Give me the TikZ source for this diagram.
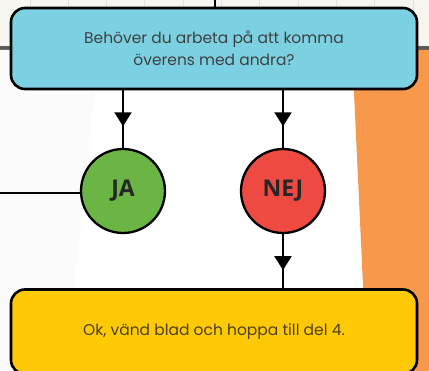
\documentclass[tikz,border=0pt]{standalone}
\usepackage{fontspec}
\setmainfont{Poppins}
\newfontfamily\labelfont{Open Sans}
\usetikzlibrary{arrows.meta,decorations.markings}
\definecolor{boxblue}{HTML}{7BD1E2}
\definecolor{boxyellow}{HTML}{FFCA05}
\definecolor{jagreen}{HTML}{6BB545}
\definecolor{nejred}{HTML}{EE4A42}
\definecolor{sideorange}{HTML}{F7984A}
\definecolor{creamtop}{HTML}{F7F5F0}
\definecolor{gridgray}{HTML}{E4E1DA}
\definecolor{bandgray}{HTML}{5A5A5A}
\definecolor{textgray}{HTML}{404040}
\definecolor{textbrown}{HTML}{4E400A}
\tikzset{
  question/.style = {draw = black, line width = 2.6pt, rounded corners = 14pt, minimum width = 406pt, minimum height = 81pt, align = center, font = \fontsize{15.5}{22}\selectfont},
  answer/.style = {circle, draw = black, line width = 2.3pt, minimum size = 84pt, inner sep = 0pt, font = \labelfont\bfseries\fontsize{23}{26}\selectfont, text = black!85},
  link/.style = {line width = 2pt},
  midarrow/.style = {postaction = {decorate}, decoration = {markings, mark = at position 36pt with {\arrow{Triangle[width=17pt,length=14pt]}}}}
}
\begin{document}
\begin{tikzpicture}[x = 1pt, y = -1pt]
\useasboundingbox (0,0) rectangle (429,371);
% background
\fill[color = creamtop] (0,0) rectangle (429,46);
\foreach \n in {0,...,10} \draw [color = gridgray, line width = 1pt] (30+38.33*\n,0) -- (30+38.33*\n,46);
\fill[color = bandgray] (0,46) rectangle (429,50);
\fill[color = black!1.5] (0,50) -- (99,50) -- (66,371) -- (0,371) -- cycle;
\fill[color = sideorange] (352,50) -- (429,50) -- (429,371) -- (367,371) -- cycle;
% nodes
\node[question, fill = boxblue, text = textgray] (fraga) at (214,48.5) {Behöver du arbeta på att komma\\överens med andra?};
\node[answer, fill = jagreen] (ja) at (123,191) {JA};
\node[answer, fill = nejred] (nej) at (283,191) {NEJ};
\node[question, fill = boxyellow, text = textbrown, minimum height = 84.5pt] (del4) at (214,331.75) {Ok, vänd blad och hoppa till del 4.};
% connectors
\coordinate (topend) at (215,0);
\coordinate (leftend) at (0,193);
\draw[link] (topend) -- (topend |- fraga.north);
\draw[link] (leftend) -- (ja.west |- leftend);
\draw[link, midarrow] (fraga.south -| ja) -- (ja.north);
\draw[link, midarrow] (fraga.south -| nej) -- (nej.north);
\draw[link, midarrow] (nej.south) -- (nej.south |- del4.north);
\end{tikzpicture}
\end{document}
